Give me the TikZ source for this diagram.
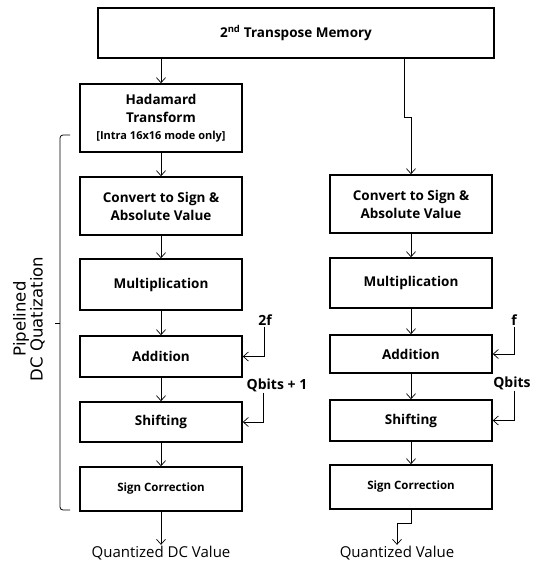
\documentclass[tikz,border=0pt]{standalone}
\usepackage{fontspec}
\setmainfont{Open Sans}
\newfontfamily\labelfont{DejaVu Sans}
\usetikzlibrary{arrows.meta, positioning}

\tikzset{
  stage/.style={draw, line width=1.6pt, minimum width=162pt, align=center, font=\fontsize{13.5}{18}\selectfont\bfseries, inner sep=2pt},
  flow/.style={-{Straight Barb[length=5pt, width=9pt]}, line width=0.7pt},
  outtext/.style={font=\fontsize{15}{17}\selectfont, inner sep=1pt},
  intext/.style={font=\fontsize{14}{16}\selectfont\bfseries, inner sep=1pt}
}

\begin{document}
\begin{tikzpicture}[x=1pt, y=-1pt]
  \useasboundingbox (0,0) rectangle (534,563);

  % Memory
  \node[stage, minimum width=396pt, minimum height=50pt] (mem) at (296,33) {2\textsuperscript{nd} Transpose Memory};

  % Left column (DC path)
  \node[stage, minimum height=68pt] (had) at (161,118)
    {Hadamard\\Transform\\[-1pt]{\fontsize{11}{12}\selectfont [Intra 16x16 mode only]}};
  \node[stage, minimum height=58pt] (cvl) at (161,206) {Convert to Sign \&\\Absolute Value};
  \node[stage, minimum height=51pt] (mull) at (161,284.5) {Multiplication};
  \node[stage, minimum height=41pt] (addl) at (161,356.5) {Addition};
  \node[stage, minimum height=40pt] (shl) at (161,422) {Shifting};
  \node[stage, minimum height=44pt, font=\fontsize{11.5}{13}\selectfont\bfseries] (scl) at (161,489) {Sign Correction};
  \node[outtext] (outl) at (161,553) {Quantized DC Value};

  % Right column
  \node[stage, minimum height=58pt] (cvr) at (411,204) {Convert to Sign \&\\Absolute Value};
  \node[stage, minimum height=50pt] (mulr) at (411,283) {Multiplication};
  \node[stage, minimum height=38pt] (addr) at (411,354) {Addition};
  \node[stage, minimum height=41pt] (shr) at (411,420.5) {Shifting};
  \node[stage, minimum height=44pt, font=\fontsize{11.5}{13}\selectfont\bfseries] (scr) at (411,487) {Sign Correction};
  \node[outtext] (outr) at (397,553) {Quantized Value};

  % Side inputs
  \node[intext] (twof) at (265,320) {2f};
  \node[intext] (qbl) at (277,385) {Qbits + 1};
  \node[intext] (fr) at (514,320) {f};
  \node[intext] (qbr) at (512,383) {Qbits};

  % Connections
  \draw[flow] (mem.south -| had.north) -- (had);
  \draw[flow] (had) -- (cvl);
  \draw[flow] (cvl) -- (mull);
  \draw[flow] (mull) -- (addl);
  \draw[flow] (addl) -- (shl);
  \draw[flow] (shl) -- (scl);
  \draw[flow] (scl) -- (outl);

  \coordinate (jog) at (404,117);
  \draw[flow] (mem.south -| jog) -- (jog) -| (cvr.north);
  \draw[flow] (cvr) -- (mulr);
  \draw[flow] (mulr) -- (addr);
  \draw[flow] (addr) -- (shr);
  \draw[flow] (shr) -- (scr);
  \draw[flow] (scr.south) -- ++(0,14) -| (outr.north);

  \draw[flow] ([xshift=-1pt]twof.south) |- (addl.east);
  \draw[flow] ([xshift=-14pt]qbl.south) |- (shl.east);
  \draw[flow] (fr.south) |- (addr.east);
  \draw[flow] ([xshift=2pt]qbr.south) |- (shr.east);

  % Pipeline bracket
  \draw[line width=0.8pt, rounded corners=3pt] (70,135) -- (60,135) -- (60,510) -- (70,510);
  \draw[line width=0.8pt] (60,323) -- (55,323);
  \node[rotate=90, align=center, font=\labelfont\fontsize{16.5}{17}\selectfont] (pipe) at (29,319) {Pipelined\\DC Quatization};
\end{tikzpicture}
\end{document}
